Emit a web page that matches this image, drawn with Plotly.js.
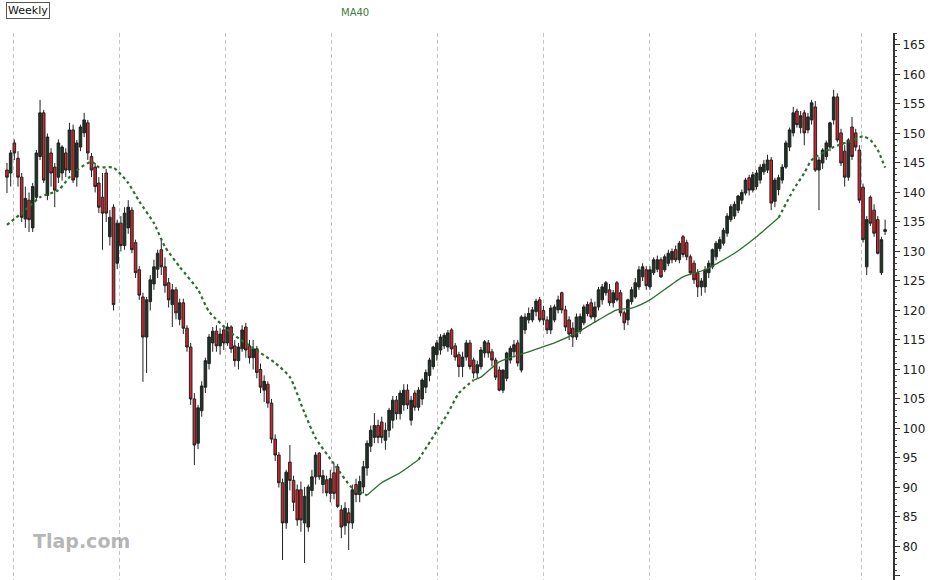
<!DOCTYPE html>
<html>
<head>
<meta charset="utf-8">
<script src="https://cdn.plot.ly/plotly-3.0.1.min.js"></script>
<style>html,body{margin:0;padding:0;background:#fff;}#chart{width:930px;height:580px;}</style>
</head>
<body>
<div id="chart"></div>
<script>
// Weekly OHLC (week index 0..239)
const weeks = Array.from({length: 240}, (_, i) => i);
const openP = [
143.8,143.3,148.4,145.8,142.6,135.5,138.7,134,139.2,146.1,
153.5,139.5,146.7,144.3,142.6,143.3,146.7,143.8,150.6,142.6,
147.7,150.1,151.8,146.1,144.3,141.6,139.2,143.3,132.5,137.5,
128,134.8,131,134,137,131.5,126.9,122.3,115.5,121.5,
124.5,127,130.3,127.4,124.7,121,123.5,118.5,121.3,117,
113.8,105,97.5,103,107,111,114.5,116.5,114,116.7,
114.5,117.2,114,111.5,113.5,117.2,114,112,113.5,110,
106.5,107.5,104.3,98.2,95.5,90.8,84,94.3,91.2,89.6,
89.6,84,83.3,89.5,91.8,95.8,90.5,91.3,89,92.5,
93.5,86.2,83.5,85.7,84,90.5,88.8,90.1,93.3,97,
98.5,100.5,101.1,98,99.7,101.4,104.8,102.5,104,106.5,
101.4,106,103.6,105,107,109,110.5,112.5,113.3,114,
113.8,116.7,114,112.5,110.5,112.1,114.5,111.6,109.4,110.5,
112.8,114.5,113,111.6,109.9,106.5,108.5,111.6,113,114.5,
109.9,116.7,118.4,118.4,119.8,121.8,120,118.4,116.7,118.4,
120.1,123,120.1,118.4,117,115.5,116.5,117.9,119.5,121.3,
118.9,120.6,121.8,123,123.5,121.3,124.7,123,119.6,118.4,
121.5,122.3,124,125.7,126.9,124,126.4,127,128.6,126.9,
128,128.6,130.3,128.6,132.5,131.5,129.1,128,126.4,124,
124,126.4,127.4,129.1,130.5,131.4,133.1,135.4,136,137,
138.7,139.9,142.5,140.4,141,142.1,143.5,143.8,145.5,138.5,
140.5,142.1,144.3,147.7,150.1,153.8,151,153.5,150.6,152.3,
154.5,143.8,145,146.1,147.7,152.3,156.2,150.1,147,142.6,
151.1,150.1,147.2,140.9,127.4,139.2,137,135.4,126.4,133.4
];
const highP = [
145,147.2,149,147,143.3,141,140,141.6,147.2,155.7,
154,150,147.5,145,149,148,147.5,151.8,151.5,148.9,
151.5,153.5,152.3,146.7,145,142.6,143.3,144,137,138,
135.4,136,137.5,138.7,137.5,132,127.5,123,122.3,126,
128.6,130.3,132,129,125.5,124.5,124,122,122,117.5,
114.5,106,104,108,112,116,117.2,117.5,117,117.5,
117.9,117.5,115,114.5,117.5,117.9,115,115,114,111,
109,108,105,99,96,91.5,93,97.2,92,90.5,
91,90.1,90.5,93,96,96,93,92,93,94,
94,87,87.5,86.5,90.5,91.5,92,94.5,98,100.5,
102.6,101.5,102,101,103.5,105.5,105.5,106.5,107.5,107.5,
105.5,106.5,107,108.5,110,112,114,115,116,116.2,
116.7,117,114.5,113,113,115,115,112,111.5,113.8,
115,115,113.5,112,110.5,110,113,114,115,115,
119.2,119.5,120.5,120.6,122,122.3,120.8,119,120.9,121,
122.5,123.2,120.8,119,118,119.5,119.5,121,121.5,122,
121.5,124,124.5,125,124.5,123.5,125,123.5,120,122,
124,125.5,127.5,128,127.5,127.5,129,129.3,129,129.5,
130.3,130.5,131,131.8,132.8,132,129.5,128.5,127,125.5,
127.5,128.5,130.5,131.8,132.5,134,136.5,138,138.5,139.6,
140.5,142.5,143,143.5,143.8,144.8,145.5,146.4,146,142.5,
143,144.8,148.8,151,154.5,154.2,153.8,154,153.5,155.7,
155.5,146,147.5,148.8,152,157.4,156.8,150.8,148,149.2,
152.8,150.8,148,141.5,136,139.5,138,136,132.5,135.4
];
const lowP = [
139.9,141,145.5,141,135,134,133.3,133.3,138.7,145.5,
141.6,138.7,141,137.5,141.6,142,142.6,143.3,141.6,141,
147,149.4,145.5,142.6,140,136.5,130.3,135,131,120,
127,130,130.3,133,129.7,125.5,121.8,107.9,109.4,120,
123.5,125.5,126,123,120.5,117.2,118.5,117.5,116,113,
104,93.8,96.5,102,106,110,113,113,112.5,113.3,
114,112.8,110.5,110,113,112,111,110,108.5,106,
104.5,103.5,97.5,94.5,90,77.7,83,89.5,86,83.5,
82.5,77.2,82.5,88.5,90.5,91.3,89,88.5,87.5,88,
86.5,81.4,82,79.4,83,87.5,87.5,89,92,96,
97.5,97.5,97.5,96.4,98.5,100,101.5,101.5,103,103.3,
100.5,103,103,104,106,108,110,111.5,112.5,113.5,
113,112.5,111.5,108.7,108.7,111.5,110,108.5,108.5,110,
112,112,110.5,108.2,106.3,106,108,111,112,110.5,
109.5,116,117.8,118,119,118,117.5,116,116,118,
119.5,119.5,116.5,115,113.8,115,116,117.5,119,118.5,
118,120,121,122.5,120.8,120.5,121.5,119,116.7,117.5,
121,122,123.5,125,123.5,123.5,126,126.5,125.5,126.5,
127.5,128,128.2,128,129,128.5,126,124.5,122.3,122.5,
123,125.5,127,128.5,130,131,132.5,135,135.5,136.5,
138,139.5,139.5,140,140.5,141.5,143,143.3,137,137.5,
139.5,141.5,144,147,149.5,151,150,148,150,151.5,
143.5,137,144,145.5,147,151.5,148.5,144.5,141,142,
145.5,147,138.2,131.5,126,134.3,132.5,129.5,126,132.8
];
const closeP = [
142.6,146.7,146.7,142.6,135.8,139,135.4,141,146.7,153.5,
142.1,149.4,143.3,140.4,148.4,147.7,143.8,150.6,142.1,148.4,
151.1,152.3,146.7,143.8,141,137.5,136.5,136.5,135.8,121,
134.8,131,136.5,137.5,130.3,126.4,122.6,115.5,121.8,125.2,
127.4,129.7,127.4,124.2,121.8,123.5,119.6,121.3,117,113.8,
105,97.2,103.5,107.2,111.5,115.5,116.5,114,116,114.5,
117.2,113.5,111.5,113.8,116.7,113.3,112,113.5,109.5,107,
108,104.3,98.2,95.5,90.8,84,92.6,91.2,87.5,84.5,
84.5,88.5,90.1,91.8,95.5,91.8,92,89.1,91.5,89,
86.8,83.3,86.5,84,89.6,88.8,91,93.5,97.5,99.7,
100.5,98.5,98.5,99.7,103.1,104.8,102.5,106,106.5,104,
104.8,103.6,106.5,108.2,109.5,111.6,113.8,114.5,115.5,115.8,
116.2,113.5,112.1,110.5,112.1,114.5,110.5,109.4,110.8,113.3,
114.7,112.8,111.6,108.7,106.5,109.9,112.8,113.6,114.2,111.1,
118.9,118.9,119.5,120.1,121.6,118.4,118.4,116.7,120.4,120.6,
121.8,120.1,117.2,116,115.5,118.9,119,120.6,121,118.9,
120.6,123.5,124,124.7,121.3,123,121.8,119.6,117.9,121.8,
123.5,124.7,126.9,127.4,124.2,126.9,128.6,128.6,125.7,129.1,
129.7,130,128.6,131.4,129.5,129.1,126.4,125.2,124,125,
126.9,128,130.3,131.4,132,133.6,136,137.6,138,139.4,
140,142.1,140.4,143,143.3,144.3,144.8,145.5,138.2,142.1,
142.5,144.3,148.4,150.6,153.5,151.5,153,150.1,152.8,155.2,
143.8,145.5,147.2,148.4,151.8,156.2,148.9,145,142.6,148.9,
146.1,147.7,138.7,132,135.4,134.8,133.1,129.7,132,133.7
];
// 40-week moving average, read at points along the line
const maWeek = [0,4,9,14,18,23,25,29,33,36,40,43,47,52,55,61,69,73,77,81,84,89,94,98,102,107,112,116,120,123,127,129,134,141,149,155,161,166,170,175,184,190,198,204,210,214,217,219,225,229,233,235,237,239];
const maValue = [134.5,136.5,139.2,140.4,143.3,145.2,144.3,144.2,141.6,138.5,134.8,130.8,127.4,123.5,119.8,116.2,112.8,111.1,108.7,102.6,98.4,94,89.9,88.7,90.8,92.5,94.7,98.6,102.6,106,108.2,108.7,111.3,112.8,114.5,116.2,118.4,120.1,120.4,121.8,125.7,126.9,129.7,132.5,135.7,140.4,143.3,145.5,147.7,148.6,149.5,148.9,147.2,144.2];
const yTicks = [75,80,85,90,95,100,105,110,115,120,125,130,135,140,145,150,155,160,165];

// line style pieces of the MA (dotted / solid as in the picture)
const maStyles = [[0,98,'dot',2.2],[98,112,'solid',1.3],[112,127,'dot',2.2],[127,210,'solid',1.3],[210,239,'dot',2.2]];
const maTraces = maStyles.map(([a,b,dash,w]) => {
  const xs = [], ys = [];
  maWeek.forEach((wk, k) => { if (wk >= a && wk <= b) { xs.push(wk); ys.push(maValue[k]); } });
  return {type:'scatter', mode:'lines', x:xs, y:ys, hoverinfo:'skip',
          line:{color:'#2f6e32', width:w, dash:dash, shape:'spline', smoothing:0.6}};
});

const candles = {
  type:'candlestick', x:weeks, open:openP, high:highP, low:lowP, close:closeP,
  increasing:{line:{color:'#222222', width:1}, fillcolor:'#1d3323'},
  decreasing:{line:{color:'#222222', width:1}, fillcolor:'#dc2229'},
  whiskerwidth:0, hoverinfo:'skip'
};

const layout = {
  width:930, height:580,
  margin:{l:0, r:37, t:33, b:0, pad:0},
  paper_bgcolor:'#ffffff', plot_bgcolor:'#ffffff',
  showlegend:false, boxgap:0,
  xaxis:{range:[-1.9,241.15], rangeslider:{visible:false}, showticklabels:false, ticks:'',
         tickmode:'linear', tick0:1.9, dtick:28.85, showgrid:true, gridcolor:'#c6c6c6',
         griddash:'4px,3px', gridwidth:1, zeroline:false, showline:false, fixedrange:true},
  yaxis:{side:'right', range:[74.32,167.03], tickmode:'array', tickvals:yTicks, ticktext:yTicks.map(String),
         ticks:'outside', ticklen:5, tickcolor:'#333', tickwidth:1,
         showline:true, linecolor:'#333', linewidth:2, showgrid:false, zeroline:false,
         tickfont:{family:'DejaVu Sans, sans-serif', size:12, color:'#222'},
         minor:{tickmode:'linear', dtick:1, ticks:'outside', ticklen:2, tickcolor:'#444', showgrid:false},
         fixedrange:true},
  annotations:[
    {text:'Weekly', xref:'paper', yref:'paper', x:0.007, y:1.041, xanchor:'left', yanchor:'middle',
     showarrow:false, font:{family:'DejaVu Sans, sans-serif', size:11, color:'#111'},
     bordercolor:'#555', borderwidth:1, borderpad:1, bgcolor:'#fff'},
    {text:'MA40', xref:'paper', yref:'paper', x:0.3975, y:1.038, xanchor:'center', yanchor:'middle',
     showarrow:false, font:{family:'DejaVu Sans, sans-serif', size:10, color:'#3d7d3d'}},
    {text:'<b>Tlap.com</b>', xref:'paper', yref:'paper', x:0.091, y:0.071, xanchor:'center', yanchor:'middle',
     showarrow:false, font:{family:'DejaVu Sans, sans-serif', size:19, color:'rgba(150,150,150,0.7)'}}
  ]
};

Plotly.newPlot('chart', [candles].concat(maTraces), layout, {staticPlot:true, displayModeBar:false});
</script>
</body>
</html>
